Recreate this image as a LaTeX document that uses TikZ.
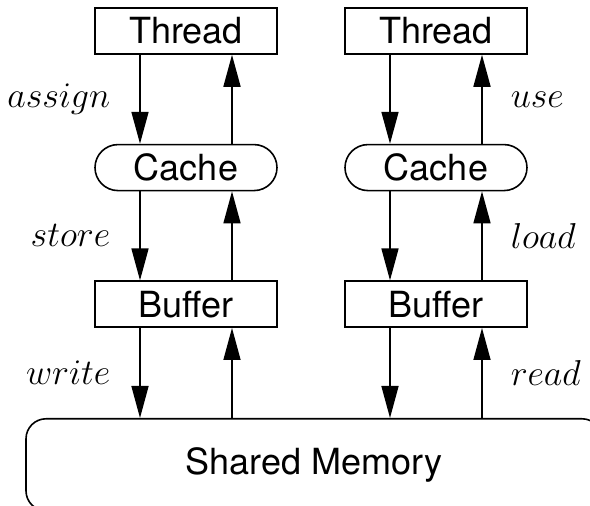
\RequirePackage{fix-cm}
\documentclass[tikz,border=0pt]{standalone}
\usepackage{fontspec}
\newfontfamily\helvfont{TeX Gyre Heros}
\usetikzlibrary{positioning,shapes.misc,arrows.meta}

\tikzset{
  unit/.style={draw,line width=0.8pt,minimum width=91pt,minimum height=23pt,inner sep=0pt,
    font=\helvfont\fontsize{18}{22}\selectfont},
  cachebox/.style={unit,rounded rectangle},
  memory/.style={unit,rounded corners=10pt,minimum width=288pt,minimum height=46pt},
  flow/.style={line width=0.8pt,-{Triangle[length=16pt,width=8.5pt]}},
  lbl/.style={inner sep=0pt,font=\fontsize{18}{22}\selectfont},
}

\begin{document}
\begin{tikzpicture}[x=1pt,y=1pt,node distance=44.5pt]
  \clip (0,0) rectangle (295,-253);
  \useasboundingbox (0,0) rectangle (295,-253);
  % the two threads
  \node[unit] (threadL) at (93,-15.5) {Thread};
  \node[unit] (threadR) at (218,-15.5) {Thread};
  \node[cachebox,below=of threadL] (cacheL) {Cache};
  \node[cachebox,below=of threadR] (cacheR) {Cache};
  \node[unit,below=of cacheL] (bufferL) {Buffer};
  \node[unit,below=of cacheR] (bufferR) {Buffer};
  \node[memory,anchor=north] (shared) at (157,-209) {Shared Memory};
  % left side
  \draw[flow] ([xshift=-23pt]threadL.south) -- node[left=14.5pt,lbl]{$assign$} ([xshift=-23pt]cacheL.north);
  \draw[flow] ([xshift=23pt]cacheL.north) -- ([xshift=23pt]threadL.south);
  \draw[flow] ([xshift=-23pt]cacheL.south) -- node[left=14.5pt,lbl]{$store$} ([xshift=-23pt]bufferL.north);
  \draw[flow] ([xshift=23pt]bufferL.north) -- ([xshift=23pt]cacheL.south);
  \draw[flow] ([xshift=-23pt]bufferL.south) -- node[left=14.5pt,lbl]{$write$} ([xshift=-23pt]bufferL.south |- shared.north);
  \draw[flow] ([xshift=23pt]bufferL.south |- shared.north) -- ([xshift=23pt]bufferL.south);
  % right side
  \draw[flow] ([xshift=-23pt]threadR.south) -- ([xshift=-23pt]cacheR.north);
  \draw[flow] ([xshift=23pt]cacheR.north) -- node[right=14pt,lbl]{$use$} ([xshift=23pt]threadR.south);
  \draw[flow] ([xshift=-23pt]cacheR.south) -- ([xshift=-23pt]bufferR.north);
  \draw[flow] ([xshift=23pt]bufferR.north) -- node[right=14pt,lbl]{$load$} ([xshift=23pt]cacheR.south);
  \draw[flow] ([xshift=-23pt]bufferR.south) -- ([xshift=-23pt]bufferR.south |- shared.north);
  \draw[flow] ([xshift=23pt]bufferR.south |- shared.north) -- node[right=14pt,lbl]{$read$} ([xshift=23pt]bufferR.south);
\end{tikzpicture}
\end{document}
